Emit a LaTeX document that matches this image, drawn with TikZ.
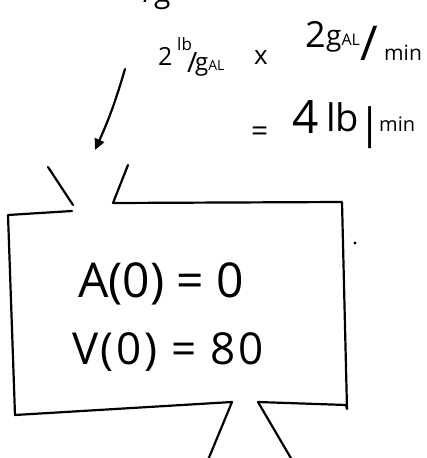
\documentclass[tikz,border=0pt]{standalone}
\usepackage{fontspec}
\setmainfont{Open Sans}
\usetikzlibrary{arrows.meta}
\newcommand{\fs}[1]{\fontsize{#1}{#1}\selectfont}
\begin{document}
\begin{tikzpicture}[x=1pt, y=-1pt,
  ink/.style={line width=2.2pt, line cap=round, line join=round},
  hand/.style={inner sep=0pt, anchor=base west}]
  \useasboundingbox (0,0) rectangle (427,458);

  % ---- cut-off line at the top ----
  \node[hand, font=\fs{30}] (cutoff) at (143,2) {/g};

  % ---- rate in: 2 lb/gal x 2 gal/min ----
  \node[hand, font=\fs{25}] (twoA) at (158,65) {2};
  \node[hand, font=\fs{17}] (lbA) at (177,50) {lb};
  \node[hand, font=\fs{28}] (slA) at (187,72) {/};
  \node[hand, font=\fs{24}] (galA) at (195,70) {g{\fs{14}AL}};
  \node[hand, font=\fs{26}] (times) at (254,64) {x};
  \node[hand, font=\fs{36}] (twoB) at (305,47) {2};
  \node[hand, font=\fs{28}] (galB) at (326,45) {g{\fs{16}AL}};
  \node[hand, font=\fs{48}] (slB) at (360,60) {/};
  \node[hand, font=\fs{21}] (minB) at (384,60) {min};

  % ---- result: = 4 lb/min ----
  \node[hand, font=\fs{30}] (eq) at (251,141) {=};
  \node[hand, font=\fs{46}] (four) at (292,133) {4};
  \node[hand, font=\fs{38}] (lbR) at (326,131) {lb};
  \node[hand, font=\fs{42}] (slR) at (358,138) {|};
  \node[hand, font=\fs{20}] (minR) at (379,131) {min};

  % ---- arrow into the tank ----
  \coordinate (arrTail) at (125,69);
  \coordinate (arrHead) at (95,150);
  \draw[ink, -{Triangle[length=11pt, width=10pt]}] (arrTail) to[bend left=4] (arrHead);

  % ---- tank with inlet and outlet ----
  \draw[ink] (48,167) -- (73,205);
  \draw[ink] (72,211) -- (8,215) -- (15,415) -- (232,402) -- (208,460);
  \draw[ink] (128,165) -- (113,203) -- (342,202) -- (347,409) -- (346,405) -- (258,402) -- (292,460);
  \fill (355,243) circle (1.6);

  % ---- initial values ----
  \node[hand, font=\fs{48}] (initA) at (78,297) {A(0) = 0};
  \node[hand, font=\fs{44}\addfontfeature{LetterSpace=6}] (initV) at (72,364) {V(0) = 80};
\end{tikzpicture}
\end{document}
